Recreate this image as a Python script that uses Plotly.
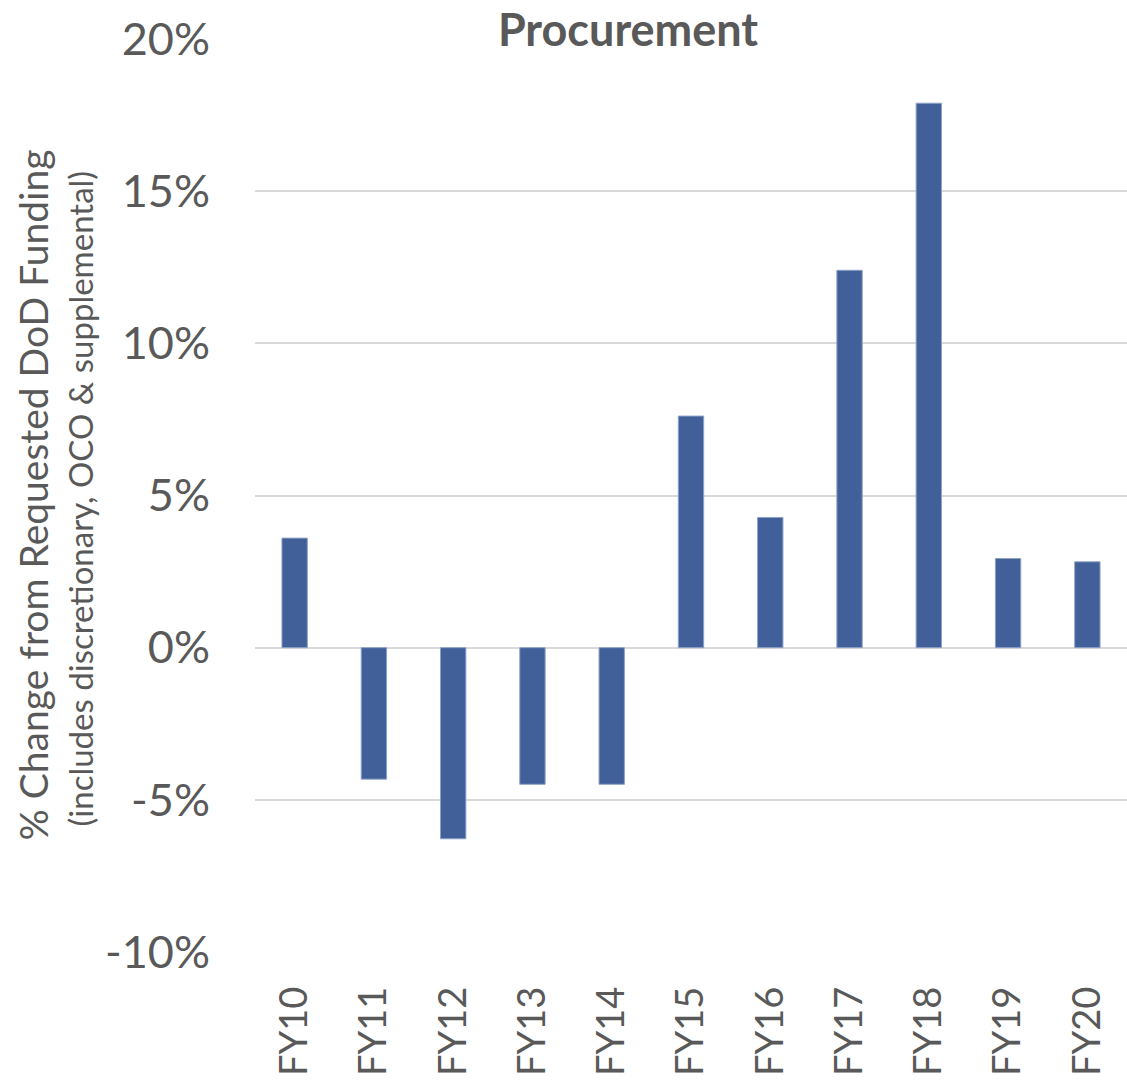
import plotly.graph_objects as go

categories = ["FY10", "FY11", "FY12", "FY13", "FY14", "FY15", "FY16", "FY17", "FY18", "FY19", "FY20"]
pct_change = [3.60, -4.32, -6.28, -4.49, -4.49, 7.61, 4.28, 12.40, 17.89, 2.93, 2.82]
y_tick_vals = [-10, -5, 0, 5, 10, 15, 20]
y_tick_text = ["-10%", "-5%", "0%", "5%", "10%", "15%", "20%"]

title_text = "Procurement"
ytitle_line1 = "% Change from Requested DoD Funding"
ytitle_line2 = "(includes discretionary, OCO & supplemental)"

W, H = 1127, 1083
L, R, T = 255, 0, 39
B = H - 952
FONT = "Lato"
GREY = "#595959"

fig = go.Figure()
fig.add_trace(go.Bar(
    x=categories, y=pct_change,
    marker=dict(color="#415F99", line=dict(color="#8ea2c8", width=1)),
))

fig.update_layout(
    width=W, height=H,
    margin=dict(l=L, r=R, t=T, b=B, autoexpand=False),
    paper_bgcolor="white", plot_bgcolor="white",
    bargap=0.68,
    showlegend=False,
    title=dict(text="<b>" + title_text + "</b>", x=628 / W, xref="container", xanchor="center",
               y=1 - 30 / H, yref="container", yanchor="middle",
               font=dict(family=FONT, size=45, color=GREY)),
    font=dict(family=FONT, color=GREY),
)

fig.update_xaxes(
    type="category", tickangle=-90, showgrid=False, zeroline=False, showline=False,
    ticks="", ticklabelstandoff=26,
    tickfont=dict(family=FONT, size=38, color=GREY),
)
fig.update_yaxes(
    range=[-10, 20], tickvals=y_tick_vals, ticktext=y_tick_text,
    showgrid=True, gridcolor="#D9D9D9", gridwidth=2, zeroline=False, showline=False,
    ticks="", ticklabelstandoff=44,
    tickfont=dict(family=FONT, size=45, color=GREY),
)

fig.add_annotation(text=ytitle_line1, textangle=-90, xref="paper", yref="paper",
                   x=(32 - L) / (W - L - R), y=0.5, xanchor="center", yanchor="middle",
                   showarrow=False, font=dict(family=FONT, size=39, color=GREY))
fig.add_annotation(text=ytitle_line2, textangle=-90, xref="paper", yref="paper",
                   x=(79 - L) / (W - L - R), y=0.5 - 3 / 913, xanchor="center", yanchor="middle",
                   showarrow=False, font=dict(family=FONT, size=33, color=GREY))

fig.write_html("out.html", config={"displayModeBar": False},
               post_script="document.body.style.margin='0';document.body.style.overflow='hidden';")
